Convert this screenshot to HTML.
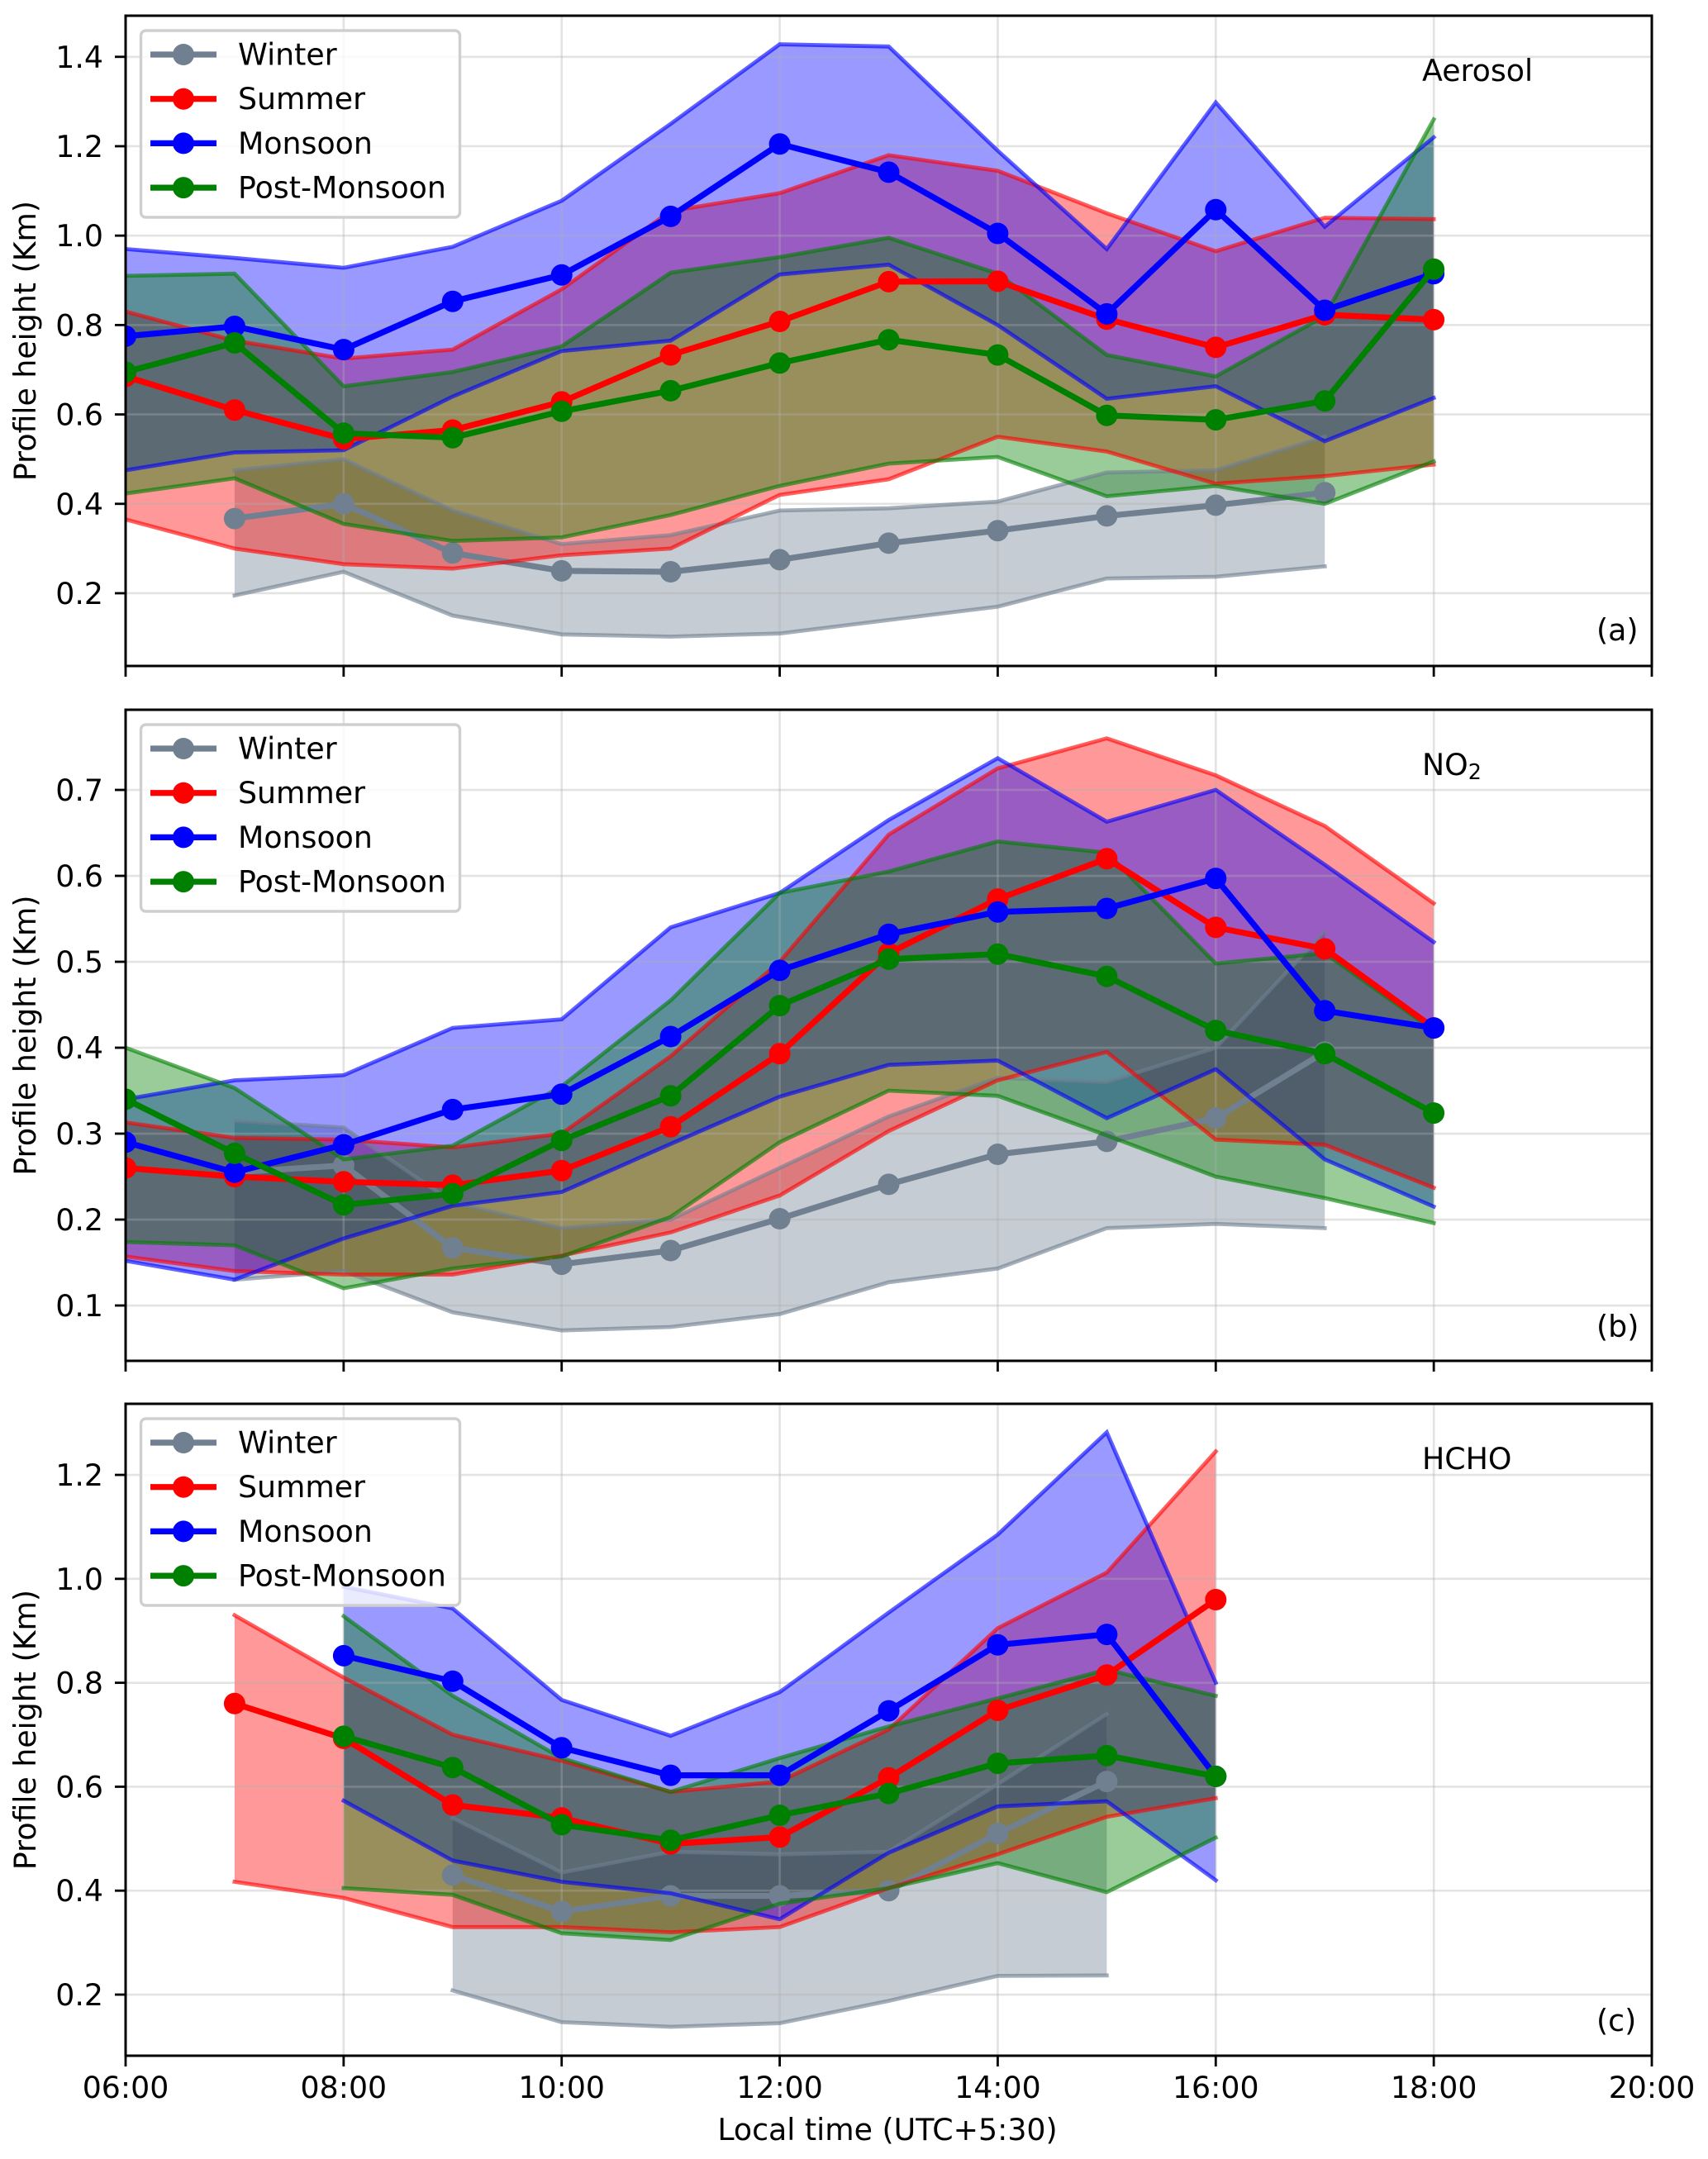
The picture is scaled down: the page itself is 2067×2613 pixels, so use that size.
<!DOCTYPE html>
<html lang="en">
<head>
<meta charset="utf-8">
<title>Seasonal diurnal profile height</title>
<style>
html,body{margin:0;padding:0;background:#fff;}
svg{display:block;}
text{font-family:"DejaVu Sans","Liberation Sans",sans-serif;fill:#000;}
</style>
</head>
<body>
<svg id="chart" xmlns="http://www.w3.org/2000/svg" width="2067" height="2613" viewBox="0 0 2067 2613"></svg>
<script>
const xTickHours = [6, 8, 10, 12, 14, 16, 18, 20];
const xTickLabels = ['06:00', '08:00', '10:00', '12:00', '14:00', '16:00', '18:00', '20:00'];
const legendLabels = ['Winter', 'Summer', 'Monsoon', 'Post-Monsoon'];

/* Panel (a) Aerosol */
const aerosolTicks = [0.2, 0.4, 0.6, 0.8, 1.0, 1.2, 1.4];
const aerosolWinterHours = [7, 8, 9, 10, 11, 12, 13, 14, 15, 16, 17];
const aerosolWinterMean = [0.367, 0.40, 0.29, 0.25, 0.248, 0.275, 0.312, 0.34, 0.373, 0.397, 0.425];
const aerosolWinterUpper = [0.475, 0.50, 0.385, 0.31, 0.33, 0.385, 0.39, 0.405, 0.47, 0.475, 0.55];
const aerosolWinterLower = [0.195, 0.248, 0.15, 0.108, 0.103, 0.11, 0.14, 0.17, 0.233, 0.237, 0.26];
const aerosolSummerHours = [6, 7, 8, 9, 10, 11, 12, 13, 14, 15, 16, 17, 18];
const aerosolSummerMean = [0.685, 0.61, 0.545, 0.565, 0.628, 0.733, 0.808, 0.897, 0.898, 0.813, 0.75, 0.823, 0.812];
const aerosolSummerUpper = [0.83, 0.765, 0.725, 0.745, 0.88, 1.055, 1.095, 1.18, 1.145, 1.05, 0.965, 1.04, 1.037];
const aerosolSummerLower = [0.365, 0.30, 0.265, 0.255, 0.285, 0.30, 0.42, 0.455, 0.55, 0.517, 0.445, 0.462, 0.488];
const aerosolMonsoonHours = [6, 7, 8, 9, 10, 11, 12, 13, 14, 15, 16, 17, 18];
const aerosolMonsoonMean = [0.775, 0.797, 0.745, 0.853, 0.912, 1.043, 1.205, 1.142, 1.005, 0.825, 1.058, 0.833, 0.915];
const aerosolMonsoonUpper = [0.97, 0.95, 0.928, 0.975, 1.078, 1.25, 1.428, 1.423, 1.19, 0.97, 1.298, 1.02, 1.22];
const aerosolMonsoonLower = [0.475, 0.515, 0.52, 0.64, 0.742, 0.765, 0.913, 0.935, 0.80, 0.635, 0.663, 0.54, 0.637];
const aerosolPostHours = [6, 7, 8, 9, 10, 11, 12, 13, 14, 15, 16, 17, 18];
const aerosolPostMean = [0.695, 0.76, 0.558, 0.548, 0.607, 0.653, 0.715, 0.767, 0.733, 0.598, 0.588, 0.63, 0.925];
const aerosolPostUpper = [0.91, 0.915, 0.663, 0.695, 0.752, 0.917, 0.952, 0.995, 0.915, 0.733, 0.685, 0.82, 1.26];
const aerosolPostLower = [0.423, 0.457, 0.355, 0.317, 0.325, 0.375, 0.44, 0.49, 0.505, 0.417, 0.44, 0.40, 0.495];

/* Panel (b) NO2 */
const no2Ticks = [0.1, 0.2, 0.3, 0.4, 0.5, 0.6, 0.7];
const no2WinterHours = [7, 8, 9, 10, 11, 12, 13, 14, 15, 16, 17];
const no2WinterMean = [0.255, 0.263, 0.167, 0.148, 0.164, 0.201, 0.241, 0.276, 0.291, 0.318, 0.395];
const no2WinterUpper = [0.315, 0.307, 0.22, 0.19, 0.20, 0.26, 0.32, 0.365, 0.36, 0.40, 0.535];
const no2WinterLower = [0.13, 0.14, 0.092, 0.071, 0.075, 0.09, 0.127, 0.143, 0.19, 0.195, 0.19];
const no2SummerHours = [6, 7, 8, 9, 10, 11, 12, 13, 14, 15, 16, 17, 18];
const no2SummerMean = [0.26, 0.25, 0.244, 0.24, 0.257, 0.308, 0.393, 0.51, 0.573, 0.62, 0.54, 0.515, 0.423];
const no2SummerUpper = [0.313, 0.295, 0.293, 0.284, 0.30, 0.39, 0.50, 0.648, 0.725, 0.76, 0.717, 0.658, 0.568];
const no2SummerLower = [0.157, 0.14, 0.136, 0.136, 0.158, 0.185, 0.228, 0.303, 0.362, 0.395, 0.293, 0.287, 0.237];
const no2MonsoonHours = [6, 7, 8, 9, 10, 11, 12, 13, 14, 15, 16, 17, 18];
const no2MonsoonMean = [0.29, 0.255, 0.287, 0.328, 0.346, 0.413, 0.49, 0.532, 0.558, 0.562, 0.597, 0.443, 0.423];
const no2MonsoonUpper = [0.34, 0.362, 0.368, 0.423, 0.433, 0.54, 0.58, 0.665, 0.737, 0.663, 0.70, 0.613, 0.523];
const no2MonsoonLower = [0.152, 0.13, 0.178, 0.216, 0.232, 0.288, 0.343, 0.38, 0.385, 0.318, 0.375, 0.27, 0.215];
const no2PostHours = [6, 7, 8, 9, 10, 11, 12, 13, 14, 15, 16, 17, 18];
const no2PostMean = [0.34, 0.277, 0.217, 0.23, 0.292, 0.344, 0.449, 0.503, 0.509, 0.483, 0.42, 0.393, 0.324];
const no2PostUpper = [0.40, 0.353, 0.27, 0.286, 0.355, 0.455, 0.58, 0.605, 0.64, 0.627, 0.498, 0.51, 0.42];
const no2PostLower = [0.174, 0.17, 0.12, 0.143, 0.157, 0.203, 0.29, 0.35, 0.344, 0.298, 0.25, 0.225, 0.196];

/* Panel (c) HCHO */
const hchoTicks = [0.2, 0.4, 0.6, 0.8, 1.0, 1.2];
const hchoWinterHours = [9, 10, 11, 12, 13, 14, 15];
const hchoWinterMean = [0.43, 0.36, 0.39, 0.39, 0.40, 0.51, 0.61];
const hchoWinterUpper = [0.54, 0.435, 0.475, 0.47, 0.475, 0.605, 0.74];
const hchoWinterLower = [0.208, 0.147, 0.138, 0.145, 0.188, 0.236, 0.237];
const hchoSummerHours = [7, 8, 9, 10, 11, 12, 13, 14, 15, 16];
const hchoSummerMean = [0.76, 0.693, 0.565, 0.54, 0.49, 0.503, 0.617, 0.747, 0.815, 0.96];
const hchoSummerUpper = [0.93, 0.81, 0.70, 0.65, 0.59, 0.61, 0.71, 0.905, 1.012, 1.245];
const hchoSummerLower = [0.417, 0.386, 0.33, 0.33, 0.32, 0.33, 0.405, 0.47, 0.542, 0.578];
const hchoMonsoonHours = [8, 9, 10, 11, 12, 13, 14, 15, 16];
const hchoMonsoonMean = [0.852, 0.803, 0.675, 0.622, 0.622, 0.746, 0.873, 0.893, 0.62];
const hchoMonsoonUpper = [0.985, 0.943, 0.767, 0.698, 0.782, 0.935, 1.085, 1.282, 0.80];
const hchoMonsoonLower = [0.573, 0.458, 0.417, 0.395, 0.345, 0.473, 0.562, 0.572, 0.42];
const hchoPostHours = [8, 9, 10, 11, 12, 13, 14, 15, 16];
const hchoPostMean = [0.697, 0.637, 0.527, 0.497, 0.545, 0.587, 0.645, 0.66, 0.62];
const hchoPostUpper = [0.928, 0.775, 0.655, 0.59, 0.655, 0.716, 0.77, 0.825, 0.775];
const hchoPostLower = [0.405, 0.392, 0.318, 0.305, 0.375, 0.405, 0.453, 0.397, 0.502];

const seasonColors = { winter: '#708090', summer: '#ff0000', monsoon: '#0000ff', post: '#008000' };
const seasonKeys = ['winter', 'summer', 'monsoon', 'post'];

const panels = [
  { id: 'aerosol', tag: '(a)', top: 19, bottom: 806, labelShift: 0, vMin: 0.0373, vMax: 1.4920, ticks: aerosolTicks,
    series: {
      winter: { h: aerosolWinterHours, m: aerosolWinterMean, u: aerosolWinterUpper, l: aerosolWinterLower },
      summer: { h: aerosolSummerHours, m: aerosolSummerMean, u: aerosolSummerUpper, l: aerosolSummerLower },
      monsoon: { h: aerosolMonsoonHours, m: aerosolMonsoonMean, u: aerosolMonsoonUpper, l: aerosolMonsoonLower },
      post: { h: aerosolPostHours, m: aerosolPostMean, u: aerosolPostUpper, l: aerosolPostLower } } },
  { id: 'no2', tag: '(b)', top: 859, bottom: 1647, labelShift: 3, vMin: 0.0356, vMax: 0.7933, ticks: no2Ticks,
    series: {
      winter: { h: no2WinterHours, m: no2WinterMean, u: no2WinterUpper, l: no2WinterLower },
      summer: { h: no2SummerHours, m: no2SummerMean, u: no2SummerUpper, l: no2SummerLower },
      monsoon: { h: no2MonsoonHours, m: no2MonsoonMean, u: no2MonsoonUpper, l: no2MonsoonLower },
      post: { h: no2PostHours, m: no2PostMean, u: no2PostUpper, l: no2PostLower } } },
  { id: 'hcho', tag: '(c)', top: 1699, bottom: 2488, labelShift: 3, vMin: 0.0824, vMax: 1.3368, ticks: hchoTicks,
    series: {
      winter: { h: hchoWinterHours, m: hchoWinterMean, u: hchoWinterUpper, l: hchoWinterLower },
      summer: { h: hchoSummerHours, m: hchoSummerMean, u: hchoSummerUpper, l: hchoSummerLower },
      monsoon: { h: hchoMonsoonHours, m: hchoMonsoonMean, u: hchoMonsoonUpper, l: hchoMonsoonLower },
      post: { h: hchoPostHours, m: hchoPostMean, u: hchoPostUpper, l: hchoPostLower } } }
];

const SVGNS = 'http://www.w3.org/2000/svg';
const root = document.getElementById('chart');
const LEFT = 152, RIGHT = 1999, FONT = 36.3, MEAN_W = 7.2, BAND_W = 4.8, DOT_R = 13;

function xAxis(hour) { return LEFT + (hour - 6) * (RIGHT - LEFT) / 14; }
function yAxis(panel, v) { return panel.bottom - (v - panel.vMin) * (panel.bottom - panel.top) / (panel.vMax - panel.vMin); }

function make(tag, attrs, parent) {
  const el = document.createElementNS(SVGNS, tag);
  for (const k in attrs) el.setAttribute(k, attrs[k]);
  parent.appendChild(el);
  return el;
}
function pointList(panel, hours, values) {
  return hours.map((h, i) => xAxis(h).toFixed(1) + ',' + yAxis(panel, values[i]).toFixed(1));
}

function drawBandFill(panel, key, s, parent) {
  const upper = pointList(panel, s.h, s.u);
  const lower = pointList(panel, s.h, s.l);
  const fill = make('polygon', { points: upper.concat(lower.slice().reverse()).join(' '), fill: seasonColors[key], 'fill-opacity': 0.4, stroke: 'none' }, parent);
  
  
}

function drawBandLines(panel, key, s, parent) {
  const color = seasonColors[key];
  const up = make('polyline', { points: pointList(panel, s.h, s.u).join(' '), fill: 'none', stroke: color, 'stroke-opacity': 0.62, 'stroke-width': BAND_W, 'stroke-linecap': 'square', 'stroke-linejoin': 'miter' }, parent);
  
  
  const low = make('polyline', { points: pointList(panel, s.h, s.l).join(' '), fill: 'none', stroke: color, 'stroke-opacity': 0.62, 'stroke-width': BAND_W, 'stroke-linecap': 'square', 'stroke-linejoin': 'miter' }, parent);
  
  
}

function drawMean(panel, key, s, parent) {
  const color = seasonColors[key];
  const line = make('polyline', { points: pointList(panel, s.h, s.m).join(' '), fill: 'none', stroke: color, 'stroke-width': MEAN_W, 'stroke-linejoin': 'round' }, parent);
  
  
  s.h.forEach((h, i) => {
    const dot = make('circle', { cx: xAxis(h).toFixed(1), cy: yAxis(panel, s.m[i]).toFixed(1), r: DOT_R, fill: color }, parent);
    
    
  });
}

function drawLegend(panel, parent) {
  const g = make('g', {}, parent);
  
  
  const frame = make('rect', { x: 170.5, y: panel.top + 18, width: 386, height: 226, rx: 6, ry: 6, fill: '#fff', 'fill-opacity': 0.8, stroke: '#cfcfcf', 'stroke-width': 3.4 }, g);
  
  
  seasonKeys.forEach((key, i) => {
    const rowY = panel.top + 47 + i * 53.7;
    const sample = make('line', { x1: 182, x2: 262, y1: rowY, y2: rowY, stroke: seasonColors[key], 'stroke-width': MEAN_W }, g);
    
    
    const dot = make('circle', { cx: 222, cy: rowY, r: DOT_R, fill: seasonColors[key] }, g);
    
    
    const label = make('text', { x: 288, y: rowY + 12.5, 'font-size': FONT }, g);
    label.textContent = legendLabels[i];
    
    
  });
}

panels.forEach((panel, idx) => {
  const g = make('g', {}, root);
  
  

  const defs = make('defs', {}, g);
  const clip = make('clipPath', { id: 'clip-' + panel.id }, defs);
  make('rect', { x: LEFT, y: panel.top, width: RIGHT - LEFT, height: panel.bottom - panel.top }, clip);

  const plot = make('g', { 'clip-path': 'url(#clip-' + panel.id + ')' }, g);
  
  

  seasonKeys.forEach(key => drawBandFill(panel, key, panel.series[key], plot));

  const grid = make('g', { stroke: '#b0b0b0', 'stroke-opacity': 0.35, 'stroke-width': 2.6 }, plot);
  
  
  xTickHours.forEach(h => {
    const gl = make('line', { x1: xAxis(h), x2: xAxis(h), y1: panel.top, y2: panel.bottom }, grid);
    
    
  });
  panel.ticks.forEach(v => {
    const gl = make('line', { x1: LEFT, x2: RIGHT, y1: yAxis(panel, v), y2: yAxis(panel, v) }, grid);
    
    
  });

  drawBandLines(panel, 'winter', panel.series.winter, plot);
  drawMean(panel, 'winter', panel.series.winter, plot);
  drawBandLines(panel, 'summer', panel.series.summer, plot);
  drawBandLines(panel, 'monsoon', panel.series.monsoon, plot);
  drawBandLines(panel, 'post', panel.series.post, plot);
  drawMean(panel, 'summer', panel.series.summer, plot);
  drawMean(panel, 'monsoon', panel.series.monsoon, plot);
  drawMean(panel, 'post', panel.series.post, plot);

  const frame = make('rect', { x: LEFT, y: panel.top, width: RIGHT - LEFT, height: panel.bottom - panel.top, fill: 'none', stroke: '#000', 'stroke-width': 3 }, g);
  
  

  xTickHours.forEach((h, i) => {
    const t = make('line', { x1: xAxis(h), x2: xAxis(h), y1: panel.bottom, y2: panel.bottom + 13, stroke: '#000', 'stroke-width': 2.8 }, g);
    
    
    if (idx === panels.length - 1) {
      const lab = make('text', { x: xAxis(h), y: panel.bottom + 51, 'font-size': FONT, 'text-anchor': 'middle' }, g);
      lab.textContent = xTickLabels[i];
      
      
    }
  });
  panel.ticks.forEach(v => {
    const y = yAxis(panel, v);
    const t = make('line', { x1: LEFT - 13, x2: LEFT, y1: y, y2: y, stroke: '#000', 'stroke-width': 2.8 }, g);
    
    
    const lab = make('text', { x: 125, y: y + 13, 'font-size': FONT, 'text-anchor': 'end' }, g);
    lab.textContent = v.toFixed(1);
    
    
  });

  const mid = (panel.top + panel.bottom) / 2;
  const yTitle = make('text', { x: 0, y: 0, 'font-size': FONT, 'text-anchor': 'middle', transform: 'translate(43 ' + mid + ') rotate(-90)' }, g);
  yTitle.textContent = 'Profile height (Km)';
  
  

  const tag = make('text', { x: 1932, y: panel.top + 756 + panel.labelShift, 'font-size': FONT }, g);
  tag.textContent = panel.tag;
  
  

  const species = make('text', { x: 1721, y: panel.top + 79, 'font-size': FONT }, g);
  
  
  if (panel.id === 'aerosol') {
    species.textContent = 'Aerosol';
  } else if (panel.id === 'hcho') {
    species.textContent = 'HCHO';
  } else {
    species.textContent = 'NO';
    const sub = make('tspan', { 'font-size': FONT * 0.7, dy: 5 }, species);
    sub.textContent = '2';
  }

  drawLegend(panel, g);
});

const xTitle = make('text', { x: 1074, y: 2590, 'font-size': FONT, 'text-anchor': 'middle' }, root);
xTitle.textContent = 'Local time (UTC+5:30)';


</script>
</body>
</html>
